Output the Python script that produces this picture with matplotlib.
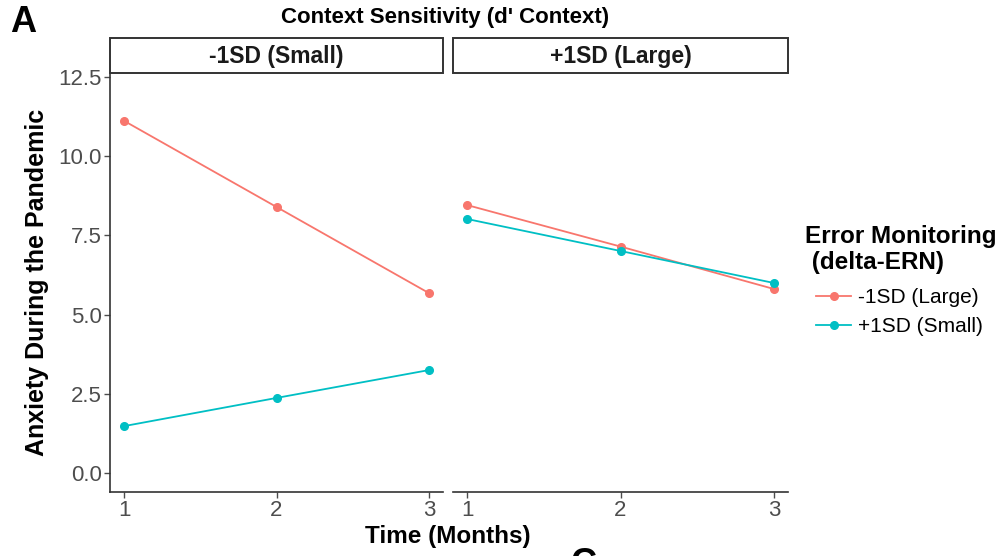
import matplotlib
matplotlib.use("Agg")
import matplotlib.pyplot as plt
from matplotlib.patches import Rectangle

plt.rcParams["font.family"] = ["Liberation Sans", "DejaVu Sans"]

months = [1, 2, 3]
panels = ["-1SD (Small)", "+1SD (Large)"]
groups = ["-1SD (Large)", "+1SD (Small)"]
colors = ["#F8766D", "#00BFC4"]

# anxiety values per panel, per error-monitoring group
small_large = [11.12, 8.40, 5.68]
small_small = [1.48, 2.37, 3.25]
large_large = [8.46, 7.15, 5.81]
large_small = [8.02, 7.01, 6.00]
panel_values = [[small_large, small_small], [large_large, large_small]]

W, H = 1005, 556
fig = plt.figure(figsize=(W / 100, H / 100), dpi=100)


def px_rect(x0, y0, x1, y1):
    return [x0 / W, 1 - y1 / H, (x1 - x0) / W, (y1 - y0) / H]


axis_col = "#333333"
tick_col = "#4D4D4D"
panel_x = [(110, 443), (453, 788)]
handles = []
for i, (x0, x1) in enumerate(panel_x):
    ax = fig.add_axes(px_rect(x0, 73, x1, 492))
    for vals, col, lab in zip(panel_values[i], colors, groups):
        h, = ax.plot(months, vals, color=col, lw=1.3, marker="o", ms=5.5, label=lab)
        if i == 0:
            handles.append(h)
    ax.set_xlim(0.908, 3.092)
    ax.set_ylim(-0.6, 12.63)
    ax.set_xticks(months)
    ax.set_yticks([0, 2.5, 5, 7.5, 10, 12.5])
    ax.set_yticklabels(["0.0", "2.5", "5.0", "7.5", "10.0", "12.5"])
    for s in ["top", "right"]:
        ax.spines[s].set_visible(False)
    ax.spines["bottom"].set_color(axis_col)
    ax.spines["left"].set_color(axis_col)
    ax.spines["bottom"].set_linewidth(1.2)
    ax.spines["left"].set_linewidth(1.2)
    ax.tick_params(colors=tick_col, labelsize=16, length=4, width=1.0, pad=2)
    if i == 1:
        ax.spines["left"].set_visible(False)
        ax.tick_params(axis="y", left=False, labelleft=False)

    sax = fig.add_axes(px_rect(x0, 38, x1, 73))
    sax.set_xlim(0, 1)
    sax.set_ylim(0, 1)
    sax.axis("off")
    sax.add_patch(Rectangle((0, 0), 1, 1, transform=sax.transAxes, facecolor="white",
                            edgecolor=axis_col, lw=1.4, clip_on=False))
    sax.text(0.5, 0.47, panels[i], ha="center", va="center", fontsize=16.5,
             weight="bold", color="#1A1A1A")

fig.text(445 / W, 1 - 17 / H, "Context Sensitivity (d' Context)", ha="center",
         va="center", fontsize=16, weight="bold")
fig.text(10 / W, 1 - 22 / H, "A", ha="left", va="center", fontsize=26, weight="bold")
fig.text(37 / W, 1 - 282 / H, "Anxiety During the Pandemic", ha="center", va="center",
         rotation=90, fontsize=18, weight="bold")
fig.text(448 / W, 1 - 537 / H, "Time (Months)", ha="center", va="center",
         fontsize=17.5, weight="bold")
fig.text(583 / W, 1 - 565 / H, "C", ha="center", va="center", fontsize=26, weight="bold")

# legend title drawn as text, entries as a legend
fig.text(805 / W, 1 - 237 / H, "Error Monitoring", ha="left", va="center",
         fontsize=17.5, weight="bold")
fig.text(805 / W, 1 - 262 / H, " (delta-ERN)", ha="left", va="center",
         fontsize=17.5, weight="bold")
leg = fig.legend(handles=handles, loc="upper left", bbox_to_anchor=(816 / W, 1 - 288 / H),
                 frameon=False, fontsize=15, handlelength=1.7, handletextpad=0.3,
                 labelspacing=0.5, borderpad=0, borderaxespad=0)

fig.savefig("out.png", dpi=100)
